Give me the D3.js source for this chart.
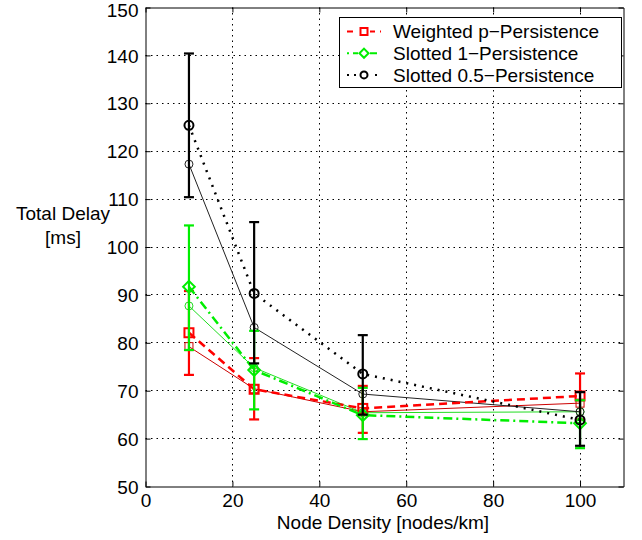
<!DOCTYPE html>
<html><head><meta charset="utf-8">
<script src="https://cdn.jsdelivr.net/npm/d3@7"></script>
<style>body{margin:0;background:#fff}text{font-family:"Liberation Sans",Arial,sans-serif;fill:#000}</style>
</head><body><svg id="c" width="642" height="540"></svg>
<script>
const xValues = [10, 25, 50, 100];
const seriesNames = ["Weighted p\u2212Persistence", "Slotted 1\u2212Persistence", "Slotted 0.5\u2212Persistence"];
const weightedMean = [82.1, 70.3, 66.3, 68.9];
const weightedThin = [79.2, 70.4, 65.6, 67.4];
const weightedLow  = [73.3, 64.0, 61.2, 64.0];
const weightedHigh = [90.8, 76.8, 71.0, 73.6];
const slotted1Mean = [91.7, 74.3, 64.9, 63.2];
const slotted1Thin = [87.7, 74.8, 65.4, 65.6];
const slotted1Low  = [78.5, 66.1, 59.9, 58.0];
const slotted1High = [104.5, 82.5, 70.6, 68.0];
const slotted05Mean = [125.4, 90.3, 73.5, 63.9];
const slotted05Thin = [117.3, 83.2, 69.3, 65.6];
const slotted05Low  = [110.4, 75.7, 65.0, 58.5];
const slotted05High = [140.4, 105.2, 81.6, 69.7];
const xTicks = [0, 20, 40, 60, 80, 100];
const yTicks = [50, 60, 70, 80, 90, 100, 110, 120, 130, 140, 150];

const svg = d3.select("#c");
const L = 145.5, R = 623.5, T = 7.5, B = 486.5;
const x = d3.scaleLinear().domain([0, 110]).range([L, R]);
const y = d3.scaleLinear().domain([50, 150]).range([B, T]);
const snap = v => Math.round(v - 0.5) + 0.5;

// grid
const g = svg.append("g");
g.selectAll(".gx").data(xTicks.filter(d => d > 0)).enter().append("line")
  .attr("x1", d => snap(x(d))).attr("x2", d => snap(x(d))).attr("y1", T).attr("y2", B)
  .attr("stroke", "#000").attr("stroke-width", 1).attr("stroke-dasharray", "1.5,4");
g.selectAll(".gy").data(yTicks.filter(d => d > 50 && d < 150)).enter().append("line")
  .attr("y1", d => snap(y(d))).attr("y2", d => snap(y(d))).attr("x1", L).attr("x2", R)
  .attr("stroke", "#000").attr("stroke-width", 1).attr("stroke-dasharray", "1.5,4");

// axes with inside ticks
const ax = svg.append("g").attr("transform", `translate(0,${B})`)
  .call(d3.axisBottom(x).tickValues(xTicks).tickSizeInner(-5).tickSizeOuter(0).tickPadding(7));
const axT = svg.append("g").attr("transform", `translate(0,${T})`)
  .call(d3.axisTop(x).tickValues(xTicks).tickSizeInner(-5).tickSizeOuter(0).tickFormat(""));
const ay = svg.append("g").attr("transform", `translate(${L},0)`)
  .call(d3.axisLeft(y).tickValues(yTicks).tickSizeInner(-5).tickSizeOuter(0).tickPadding(7));
const ayR = svg.append("g").attr("transform", `translate(${R},0)`)
  .call(d3.axisRight(y).tickValues(yTicks).tickSizeInner(-5).tickSizeOuter(0).tickFormat(""));
[ax, axT, ay, ayR].forEach(a => {
  a.select(".domain").attr("stroke", "#000");
  a.selectAll("text").style("font-size", "19px").attr("font-family", "Liberation Sans, Arial, sans-serif");
});
ay.selectAll("text").attr("dy", d => d === 150 ? "0.45em" : "0.35em");

const series = [
  {mean: weightedMean, thin: weightedThin, low: weightedLow, high: weightedHigh, color: "#ff0000", thinColor: "#cc0000", dash: "8,5", marker: "square", thinMarker: "square"},
  {mean: slotted1Mean, thin: slotted1Thin, low: slotted1Low, high: slotted1High, color: "#00ee00", thinColor: "#22dd22", dash: "9,4,2,4", marker: "diamond", thinMarker: "circle"},
  {mean: slotted05Mean, thin: slotted05Thin, low: slotted05Low, high: slotted05High, color: "#000000", thinColor: "#222222", dash: "2,6", marker: "circle", thinMarker: "circle"}
];

function marker(sel, type, cx, cy, color, sw, size) {
  if (type === "square") {
    sel.append("rect").attr("x", cx - size/2).attr("y", cy - size/2).attr("width", size).attr("height", size)
      .attr("fill", "none").attr("stroke", color).attr("stroke-width", sw);
  } else if (type === "diamond") {
    const s = size * 0.65;
    sel.append("path").attr("d", `M${cx},${cy - s}L${cx + s},${cy}L${cx},${cy + s}L${cx - s},${cy}Z`)
      .attr("fill", "none").attr("stroke", color).attr("stroke-width", sw);
  } else {
    sel.append("circle").attr("cx", cx).attr("cy", cy).attr("r", size/2)
      .attr("fill", "none").attr("stroke", color).attr("stroke-width", sw);
  }
}

const line = d3.line().x((d, i) => x(xValues[i])).y(d => y(d));
const plot = svg.append("g");
// thin lines
series.forEach(s => {
  plot.append("path").datum(s.thin).attr("d", line).attr("fill", "none")
    .attr("stroke", s.thinColor).attr("stroke-width", 1);
  s.thin.forEach((v, i) => marker(plot, s.thinMarker, x(xValues[i]), y(v), s.thinColor, 1, 8));
});
// error bars and thick lines
series.forEach(s => {
  xValues.forEach((xv, i) => {
    const cx = x(xv);
    plot.append("line").attr("x1", cx).attr("x2", cx).attr("y1", y(s.low[i])).attr("y2", y(s.high[i]))
      .attr("stroke", s.color).attr("stroke-width", 2.2);
    [s.low[i], s.high[i]].forEach(v => plot.append("line").attr("x1", cx - 5).attr("x2", cx + 5)
      .attr("y1", y(v)).attr("y2", y(v)).attr("stroke", s.color).attr("stroke-width", 2.2));
  });
  plot.append("path").datum(s.mean).attr("d", line).attr("fill", "none")
    .attr("stroke", s.color).attr("stroke-width", 2.5).attr("stroke-dasharray", s.dash);
  s.mean.forEach((v, i) => marker(plot, s.marker, x(xValues[i]), y(v), s.color, 2, 9));
});

// legend
const lg = svg.append("g");
lg.append("rect").attr("x", 339.5).attr("y", 17.5).attr("width", 282).attr("height", 70)
  .attr("fill", "#fff").attr("stroke", "#000").attr("stroke-width", 1);
seriesNames.forEach((name, i) => {
  const s = series[i];
  const cy = 31.5 + i * 21.7;
  lg.append("line").attr("x1", 347).attr("x2", 381).attr("y1", cy).attr("y2", cy)
    .attr("stroke", s.color).attr("stroke-width", 2).attr("stroke-dasharray", i === 0 ? "6,5" : i === 1 ? "2,4,7,4" : "2,5");
  const m = lg.append("g");
  m.append("rect").attr("x", 358).attr("y", cy - 6).attr("width", 12).attr("height", 12).attr("fill", "#fff");
  marker(m, s.marker, 364, cy, s.color, 2, 7);
  lg.append("text").attr("x", 393).attr("y", cy).attr("dy", "0.35em").style("font-size", "19px").text(name);
});

// titles
svg.append("text").attr("x", 383).attr("y", 522).attr("dy", "0.35em").attr("text-anchor", "middle")
  .style("font-size", "19px").text("Node Density [nodes/km]");
svg.append("text").attr("x", 63).attr("y", 213).attr("dy", "0.35em").attr("text-anchor", "middle")
  .style("font-size", "19px").text("Total Delay");
svg.append("text").attr("x", 63).attr("y", 237).attr("dy", "0.35em").attr("text-anchor", "middle")
  .style("font-size", "19px").text("[ms]");
</script></body></html>
